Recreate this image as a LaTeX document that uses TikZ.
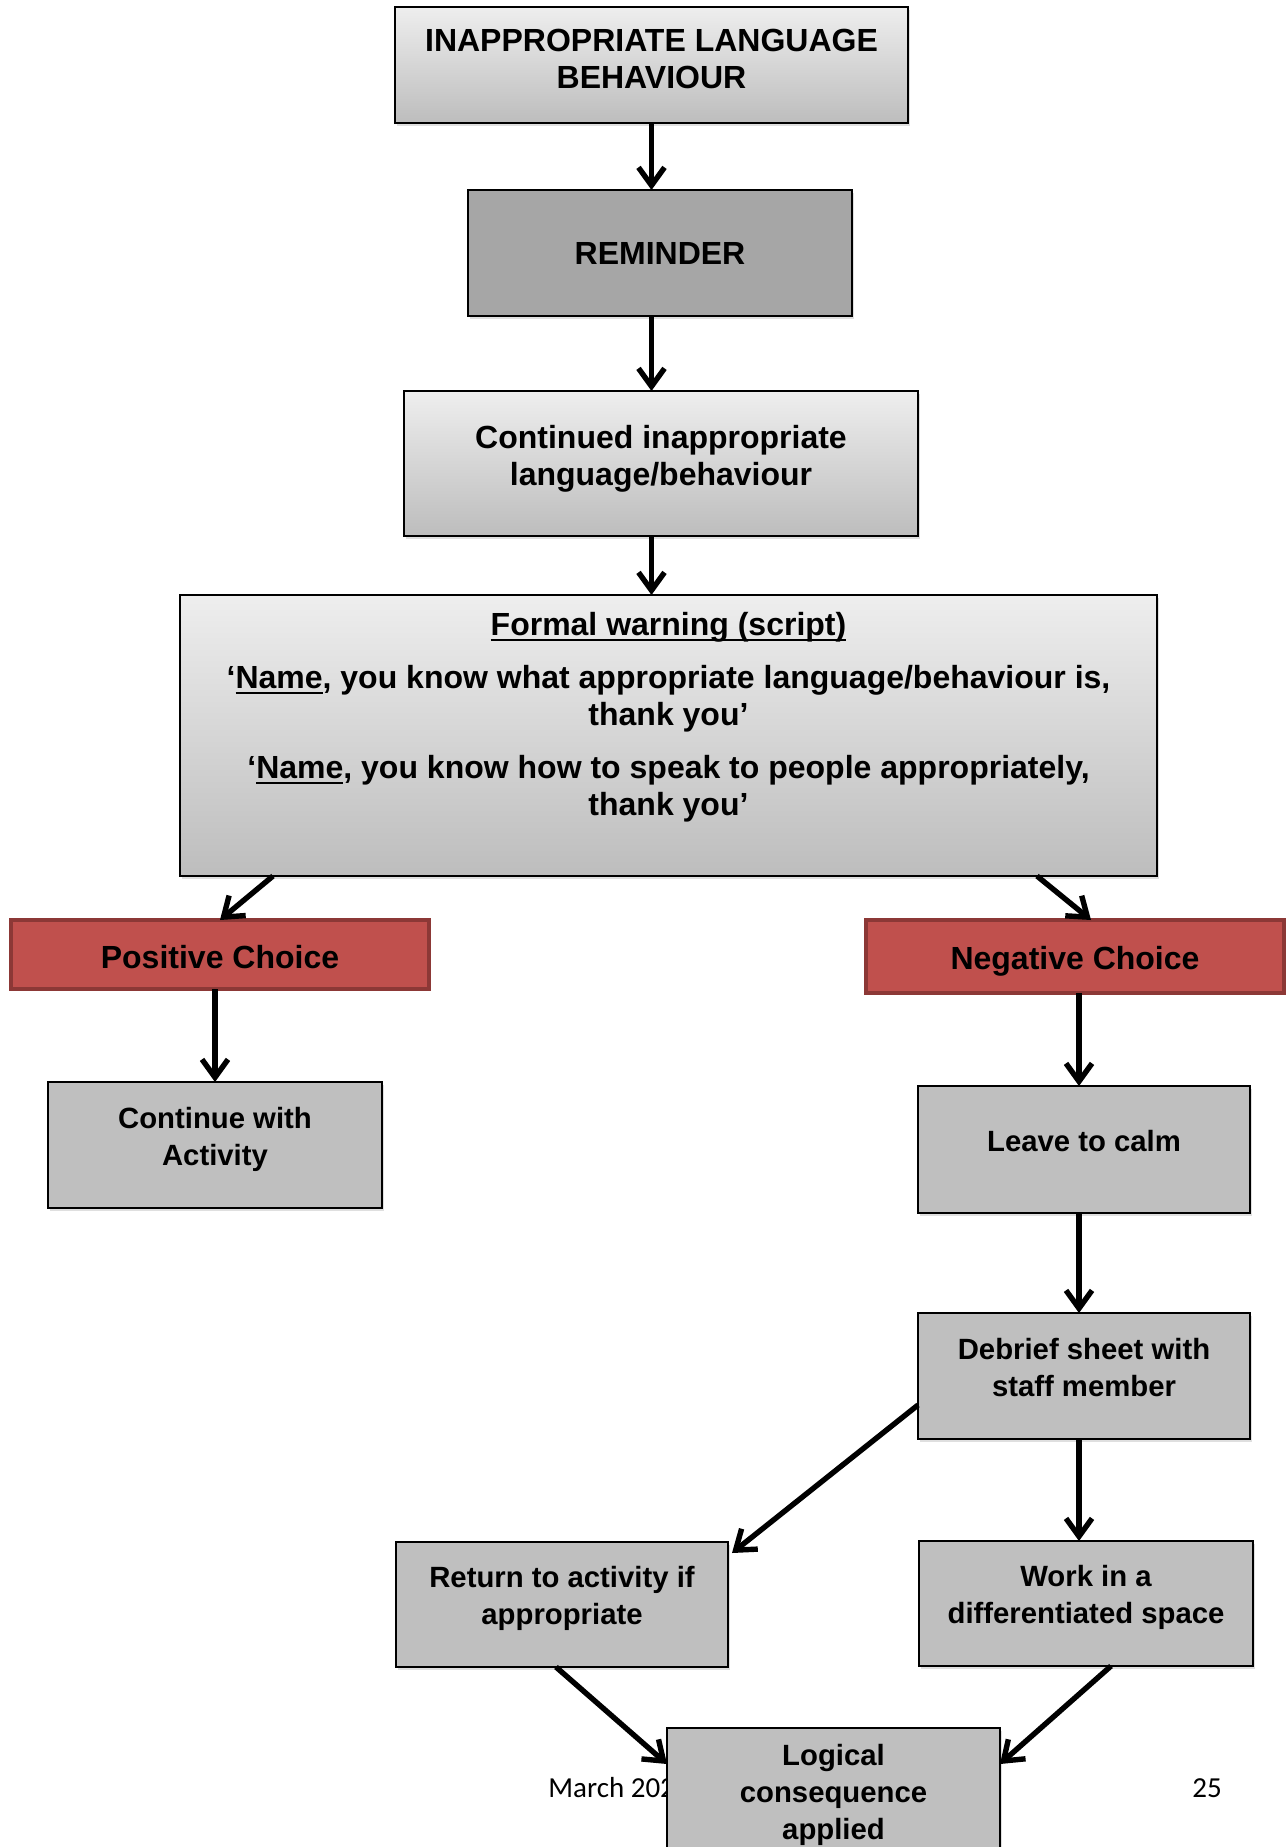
\documentclass[tikz,border=0pt]{standalone}
\usepackage{fontspec}
\setmainfont{Liberation Sans}
\newfontfamily\footfont{Carlito}
\usetikzlibrary{arrows.meta,shadows}
\definecolor{gtop}{HTML}{EEEEEE}
\definecolor{gbot}{HTML}{BDBDBD}
\definecolor{boxgray}{HTML}{BFBFBF}
\definecolor{remgray}{HTML}{A6A6A6}
\definecolor{redfill}{HTML}{C0504D}
\definecolor{redline}{HTML}{8C3836}
\newcommand\myul[1]{\setbox0\hbox{#1}\rlap{\rule[-3pt]{\wd0}{1.3pt}}\box0}
\tikzset{
  base/.style={draw=black, line width=0.8pt, inner sep=0pt, outer sep=0pt},
  shad/.style={drop shadow={opacity=0.25, shadow xshift=0.8pt, shadow yshift=-1.6pt}},
  gradbox/.style={base, shad, top color=gtop, bottom color=gbot},
  graybox/.style={base, shad, fill=boxgray},
  remindbox/.style={base, shad, fill=remgray},
  redbox/.style={base, draw=redline, line width=2pt, fill=redfill},
  txt/.style={align=center, inner sep=0pt, font=\bfseries\fontsize{16}{18.5}\selectfont},
  stxt/.style={align=center, inner sep=0pt, font=\bfseries\fontsize{14.65}{18.5}\selectfont},
  foot/.style={inner sep=0pt, font=\footfont\fontsize{14.5}{17}\selectfont},
  arr/.style={line width=2.7pt, -{Straight Barb[length=9pt,width=13pt]}},
}
\begin{document}
\begin{tikzpicture}[x=0.5pt,y=-0.5pt]
\useasboundingbox (0,0) rectangle (1288,1847);
\clip (0,0) rectangle (1288,1847);

% boxes
\node[gradbox, minimum width=256.5pt, minimum height=58pt] (top) at (651.5,65) {};
\node[txt] (topT) at ([yshift=3pt]top.center) {INAPPROPRIATE LANGUAGE\\BEHAVIOUR};

\node[remindbox, minimum width=192pt, minimum height=63pt] (reminder) at (660,253) {};
\node[txt] (reminderT) at (reminder.center) {REMINDER};

\node[gradbox, minimum width=257pt, minimum height=72.5pt] (continued) at (661,463.5) {};
\node[txt] (continuedT) at ([yshift=2.5pt]continued.center) {Continued inappropriate\\language/behaviour};

\node[gradbox, minimum width=488.5pt, minimum height=140.5pt] (formal) at (668.5,735.5) {};
\node[txt] (formalT) at (668.5,717) {\myul{Formal warning (script)}\\[8pt]
‘\myul{Name}, you know what appropriate language/behaviour is,\\thank you’\\[8pt]
‘\myul{Name}, you know how to speak to people appropriately,\\thank you’};

\node[redbox, minimum width=209pt, minimum height=34.5pt] (positive) at (220,954.5) {};
\node[txt] (positiveT) at ([yshift=-1.5pt]positive.center) {Positive Choice};

\node[redbox, minimum width=209pt, minimum height=36.5pt] (negative) at (1075,956.5) {};
\node[txt] (negativeT) at ([yshift=-2.5pt]negative.center) {Negative Choice};

\node[graybox, minimum width=167pt, minimum height=63pt] (cont) at (215,1145) {};
\node[stxt] (contT) at ([yshift=2.8pt]cont.center) {Continue with\\Activity};

\node[graybox, minimum width=166pt, minimum height=63.5pt] (leave) at (1084,1149.5) {};
\node[stxt] (leaveT) at ([yshift=4pt]leave.center) {Leave to calm};

\node[graybox, minimum width=166pt, minimum height=63pt] (debrief) at (1084,1376) {};
\node[stxt] (debriefT) at ([yshift=4.3pt]debrief.center) {Debrief sheet with\\staff member};

\node[graybox, minimum width=166pt, minimum height=62.5pt] (return) at (562,1604.5) {};
\node[stxt] (returnT) at ([yshift=3pt]return.center) {Return to activity if\\appropriate};

\node[graybox, minimum width=167pt, minimum height=62.5pt] (work) at (1086,1603.5) {};
\node[stxt] (workT) at ([yshift=3pt]work.center) {Work in a\\differentiated space};

% footer (partly hidden by the last box)
\node[foot, anchor=west] (footL) at (548,1788) {March 202};
\node[foot] (footR) at (1207,1788) {25};

\node[graybox, minimum width=166.5pt, minimum height=63pt] (logical) at (833.5,1791) {};
\node[stxt] (logicalT) at ([yshift=-1.75pt]logical.center) {Logical\\consequence\\applied};

% connectors
\coordinate (rcol) at ([xshift=-2.5pt]leave.north);
\draw[arr] (top.south) -- (top.south |- reminder.north);
\draw[arr] (top.south |- reminder.south) -- (top.south |- continued.north);
\draw[arr] (top.south |- continued.south) -- (top.south |- formal.north);
\draw[arr] ([xshift=46.5pt]formal.south west) -- (positive.north);
\draw[arr] ([xshift=-60pt]formal.south east) -- ([xshift=8pt]negative.north);
\draw[arr] (cont.north |- positive.south) -- (cont.north);
\draw[arr] (rcol |- negative.south) -- (rcol);
\draw[arr] (rcol |- leave.south) -- (rcol |- debrief.north);
\draw[arr] (rcol |- debrief.south) -- (rcol |- work.north);
\draw[arr] ([yshift=-14.5pt]debrief.west) -- ([shift={(2pt,-5.5pt)}]return.north east);
\draw[arr] ([xshift=-3pt]return.south) -- ([yshift=13.5pt]logical.west);
\draw[arr] ([xshift=12.5pt]work.south) -- ([yshift=13.5pt]logical.east);
\end{tikzpicture}
\end{document}
